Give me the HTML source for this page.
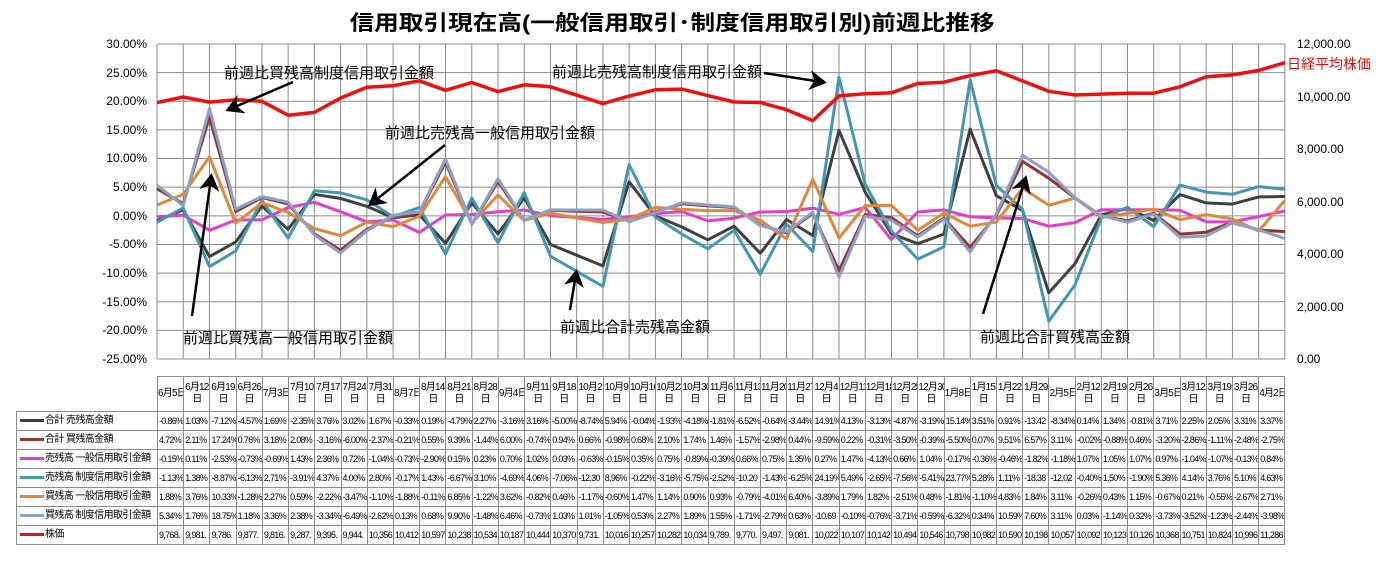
<!DOCTYPE html>
<html><head><meta charset="utf-8">
<style>
body{margin:0;background:#fff;width:1376px;height:564px;overflow:hidden;position:relative;font-family:"Liberation Sans","Noto Sans CJK JP",sans-serif;}
svg{position:absolute;left:0;top:0}
table{position:absolute;left:16px;top:376px;border-collapse:collapse;table-layout:fixed;width:1268px}
td,th{border:1px solid #8c8c8c;padding:0 0 0 1px;overflow:hidden;white-space:nowrap;font-size:9px;letter-spacing:-0.7px;font-weight:normal;color:#000;height:18px;line-height:18px}
th{height:34px;line-height:12px;font-size:10px;letter-spacing:-0.8px;text-align:center;padding:0}
th.e{border:none}
td.l{font-size:10px;letter-spacing:-0.6px;padding-left:3px}
td.l i{display:inline-block;width:24px;height:3px;vertical-align:middle;margin-right:1px}
</style></head><body>
<svg id="s" width="1376" height="564" xmlns="http://www.w3.org/2000/svg">
<text x="672" y="30" text-anchor="middle" font-size="21" font-weight="bold" textLength="645" lengthAdjust="spacingAndGlyphs" font-family="Liberation Sans,Noto Sans CJK JP,sans-serif">信用取引現在高(一般信用取引･制度信用取引別)前週比推移</text>
<g id="grid" stroke="#8c8c8c" stroke-width="1"></g>
<g font-size="12" fill="#000" text-anchor="end" font-family="Liberation Sans,sans-serif">
<text x="147" y="48">30.00%</text><text x="147" y="77">25.00%</text><text x="147" y="105">20.00%</text><text x="147" y="134">15.00%</text><text x="147" y="162">10.00%</text><text x="147" y="191">5.00%</text><text x="147" y="220">0.00%</text><text x="147" y="248">-5.00%</text><text x="147" y="277">-10.00%</text><text x="147" y="306">-15.00%</text><text x="147" y="334">-20.00%</text><text x="147" y="363">-25.00%</text>
</g>
<g font-size="12" fill="#000" font-family="Liberation Sans,sans-serif">
<text x="1297" y="48">12,000.00</text><text x="1297" y="101">10,000.00</text><text x="1297" y="153">8,000.00</text><text x="1297" y="206">6,000.00</text><text x="1297" y="258">4,000.00</text><text x="1297" y="311">2,000.00</text><text x="1297" y="363">0.00</text>
</g>
<text x="1287" y="69" font-size="14" fill="#e01010" font-family="Liberation Sans,Noto Sans CJK JP,sans-serif">日経平均株価</text>
<g id="lines" fill="none" stroke-linejoin="round"></g>
<defs><marker id="ah" markerWidth="8" markerHeight="8" refX="5" refY="4" orient="auto" markerUnits="strokeWidth"><path d="M0,0 L7,4 L0,8 L2,4 z" fill="#000"/></marker></defs>
<g stroke="#000" stroke-width="2.5" marker-end="url(#ah)">
<line x1="293" y1="82" x2="230" y2="109"/>
<line x1="445" y1="145" x2="372" y2="203"/>
<line x1="192" y1="316" x2="211" y2="178"/>
<line x1="764" y1="73" x2="822" y2="82"/>
<line x1="570" y1="310" x2="576" y2="274"/>
<line x1="983" y1="314" x2="1025" y2="180"/>
</g>
<g font-size="15" fill="#000" font-family="Liberation Sans,Noto Sans CJK JP,sans-serif">
<text x="224" y="78">前週比買残高制度信用取引金額</text>
<text x="385" y="138">前週比売残高一般信用取引金額</text>
<text x="183" y="343">前週比買残高一般信用取引金額</text>
<text x="552" y="77">前週比売残高制度信用取引金額</text>
<text x="560" y="332">前週比合計売残高金額</text>
<text x="980" y="342">前週比合計買残高金額</text>
</g>
</svg>
<table>
<colgroup><col style="width:141px"><col span="43" style="width:26.23px"></colgroup>
<tr><th class="e"></th><th>6月5日</th><th>6月12<br>日</th><th>6月19<br>日</th><th>6月26<br>日</th><th>7月3日</th><th>7月10<br>日</th><th>7月17<br>日</th><th>7月24<br>日</th><th>7月31<br>日</th><th>8月7日</th><th>8月14<br>日</th><th>8月21<br>日</th><th>8月28<br>日</th><th>9月4日</th><th>9月11<br>日</th><th>9月18<br>日</th><th>10月2<br>日</th><th>10月9<br>日</th><th>10月16<br>日</th><th>10月23<br>日</th><th>10月30<br>日</th><th>11月6<br>日</th><th>11月13<br>日</th><th>11月20<br>日</th><th>11月27<br>日</th><th>12月4<br>日</th><th>12月11<br>日</th><th>12月18<br>日</th><th>12月25<br>日</th><th>12月30<br>日</th><th>1月8日</th><th>1月15<br>日</th><th>1月22<br>日</th><th>1月29<br>日</th><th>2月5日</th><th>2月12<br>日</th><th>2月19<br>日</th><th>2月26<br>日</th><th>3月5日</th><th>3月12<br>日</th><th>3月19<br>日</th><th>3月26<br>日</th><th>4月2日</th></tr>
<tr><td class="l"><i style="background:#404040"></i>合計 売残高金額</td><td>-0.86%</td><td>1.03%</td><td>-7.12%</td><td>-4.57%</td><td>1.69%</td><td>-2.35%</td><td>3.76%</td><td>3.02%</td><td>1.67%</td><td>-0.33%</td><td>0.19%</td><td>-4.79%</td><td>2.27%</td><td>-3.16%</td><td>3.16%</td><td>-5.00%</td><td>-8.74%</td><td>5.94%</td><td>-0.04%</td><td>-1.93%</td><td>-4.18%</td><td>-1.81%</td><td>-6.52%</td><td>-0.64%</td><td>-3.44%</td><td>14.91%</td><td>4.13%</td><td>-3.13%</td><td>-4.87%</td><td>-3.19%</td><td>15.14%</td><td>3.51%</td><td>0.91%</td><td>-13.42</td><td>-8.34%</td><td>0.14%</td><td>1.34%</td><td>-0.81%</td><td>3.71%</td><td>2.25%</td><td>2.05%</td><td>3.31%</td><td>3.37%</td></tr>
<tr><td class="l"><i style="background:#943634"></i>合計 買残高金額</td><td>4.72%</td><td>2.11%</td><td>17.24%</td><td>0.76%</td><td>3.18%</td><td>2.08%</td><td>-3.16%</td><td>-6.00%</td><td>-2.37%</td><td>-0.21%</td><td>0.55%</td><td>9.39%</td><td>-1.44%</td><td>6.00%</td><td>-0.74%</td><td>0.94%</td><td>0.66%</td><td>-0.98%</td><td>0.68%</td><td>2.10%</td><td>1.74%</td><td>1.46%</td><td>-1.57%</td><td>-2.98%</td><td>0.44%</td><td>-9.59%</td><td>0.22%</td><td>-0.31%</td><td>-3.50%</td><td>-0.39%</td><td>-5.50%</td><td>0.07%</td><td>9.51%</td><td>6.57%</td><td>3.11%</td><td>-0.02%</td><td>-0.88%</td><td>0.46%</td><td>-3.20%</td><td>-2.86%</td><td>-1.11%</td><td>-2.48%</td><td>-2.75%</td></tr>
<tr><td class="l"><i style="background:#e040c8"></i>売残高 一般信用取引金額</td><td>-0.15%</td><td>0.11%</td><td>-2.53%</td><td>-0.73%</td><td>-0.69%</td><td>1.43%</td><td>2.36%</td><td>0.72%</td><td>-1.04%</td><td>-0.73%</td><td>-2.90%</td><td>0.15%</td><td>0.23%</td><td>0.70%</td><td>1.02%</td><td>0.03%</td><td>-0.63%</td><td>-0.15%</td><td>0.35%</td><td>0.75%</td><td>-0.89%</td><td>-0.39%</td><td>0.66%</td><td>0.75%</td><td>1.35%</td><td>0.27%</td><td>1.47%</td><td>-4.13%</td><td>0.66%</td><td>1.04%</td><td>-0.17%</td><td>-0.36%</td><td>-0.46%</td><td>-1.82%</td><td>-1.18%</td><td>1.07%</td><td>1.05%</td><td>1.07%</td><td>0.97%</td><td>-1.04%</td><td>-1.07%</td><td>-0.13%</td><td>0.84%</td></tr>
<tr><td class="l"><i style="background:#4198af"></i>売残高 制度信用取引金額</td><td>-1.13%</td><td>1.38%</td><td>-8.87%</td><td>-6.13%</td><td>2.71%</td><td>-3.91%</td><td>4.37%</td><td>4.00%</td><td>2.80%</td><td>-0.17%</td><td>1.43%</td><td>-6.67%</td><td>3.10%</td><td>-4.69%</td><td>4.06%</td><td>-7.06%</td><td>-12.30</td><td>8.96%</td><td>-0.22%</td><td>-3.16%</td><td>-5.75%</td><td>-2.52%</td><td>-10.20</td><td>-1.43%</td><td>-6.25%</td><td>24.19%</td><td>5.49%</td><td>-2.65%</td><td>-7.56%</td><td>-5.41%</td><td>23.77%</td><td>5.28%</td><td>1.11%</td><td>-18.38</td><td>-12.02</td><td>-0.40%</td><td>1.50%</td><td>-1.90%</td><td>5.36%</td><td>4.14%</td><td>3.76%</td><td>5.10%</td><td>4.63%</td></tr>
<tr><td class="l"><i style="background:#e0883a"></i>買残高 一般信用取引金額</td><td>1.88%</td><td>3.76%</td><td>10.33%</td><td>-1.28%</td><td>2.27%</td><td>0.59%</td><td>-2.22%</td><td>-3.47%</td><td>-1.10%</td><td>-1.88%</td><td>-0.11%</td><td>6.85%</td><td>-1.22%</td><td>3.62%</td><td>-0.82%</td><td>0.46%</td><td>-1.17%</td><td>-0.60%</td><td>1.47%</td><td>1.14%</td><td>0.90%</td><td>0.93%</td><td>-0.79%</td><td>-4.01%</td><td>6.40%</td><td>-3.89%</td><td>1.79%</td><td>1.82%</td><td>-2.51%</td><td>0.48%</td><td>-1.81%</td><td>-1.10%</td><td>4.83%</td><td>1.84%</td><td>3.11%</td><td>-0.26%</td><td>0.43%</td><td>1.15%</td><td>-0.67%</td><td>0.21%</td><td>-0.55%</td><td>-2.67%</td><td>2.71%</td></tr>
<tr><td class="l"><i style="background:#8ea0c8"></i>買残高 制度信用取引金額</td><td>5.34%</td><td>1.76%</td><td>18.75%</td><td>1.18%</td><td>3.36%</td><td>2.38%</td><td>-3.34%</td><td>-6.49%</td><td>-2.62%</td><td>0.13%</td><td>0.68%</td><td>9.90%</td><td>-1.48%</td><td>6.46%</td><td>-0.73%</td><td>1.03%</td><td>1.01%</td><td>-1.05%</td><td>0.53%</td><td>2.27%</td><td>1.89%</td><td>1.55%</td><td>-1.71%</td><td>-2.79%</td><td>0.63%</td><td>-10.69</td><td>-0.10%</td><td>-0.76%</td><td>-3.71%</td><td>-0.59%</td><td>-6.32%</td><td>0.34%</td><td>10.59%</td><td>7.60%</td><td>3.11%</td><td>0.03%</td><td>-1.14%</td><td>0.32%</td><td>-3.73%</td><td>-3.52%</td><td>-1.23%</td><td>-2.44%</td><td>-3.98%</td></tr>
<tr><td class="l"><i style="background:#ee1010"></i>株価</td><td>9,768.</td><td>9,981.</td><td>9,786.</td><td>9,877.</td><td>9,816.</td><td>9,287.</td><td>9,395.</td><td>9,944.</td><td>10,356</td><td>10,412</td><td>10,597</td><td>10,238</td><td>10,534</td><td>10,187</td><td>10,444</td><td>10,370</td><td>9,731.</td><td>10,016</td><td>10,257</td><td>10,282</td><td>10,034</td><td>9,789.</td><td>9,770.</td><td>9,497.</td><td>9,081.</td><td>10,022</td><td>10,107</td><td>10,142</td><td>10,494</td><td>10,546</td><td>10,798</td><td>10,982</td><td>10,590</td><td>10,198</td><td>10,057</td><td>10,092</td><td>10,123</td><td>10,126</td><td>10,368</td><td>10,751</td><td>10,824</td><td>10,996</td><td>11,286</td></tr>
</table>
<script>
var NS="http://www.w3.org/2000/svg";
var g=document.getElementById("grid"),L=document.getElementById("lines");
var X0=157,W=26.23,Y0=44,H=315;
function ln(p,a,b,c,d){var e=document.createElementNS(NS,"line");e.setAttribute("x1",a);e.setAttribute("y1",b);e.setAttribute("x2",c);e.setAttribute("y2",d);p.appendChild(e);}
for(var j=0;j<=11;j++){var y=Y0+H*j/11;ln(g,X0,y,X0+43*W,y);}
for(var k=0;k<=43;k++){var x=X0+k*W;ln(g,x,Y0,x,Y0+H);}
var S=[
["#404040",[-0.86,1.03,-7.12,-4.57,1.69,-2.35,3.76,3.02,1.67,-0.33,0.19,-4.79,2.27,-3.16,3.16,-5.00,-8.74,5.94,-0.04,-1.93,-4.18,-1.81,-6.52,-0.64,-3.44,14.91,4.13,-3.13,-4.87,-3.19,15.14,3.51,0.91,-13.42,-8.34,0.14,1.34,-0.81,3.71,2.25,2.05,3.31,3.37]],
["#943634",[4.72,2.11,17.24,0.76,3.18,2.08,-3.16,-6.00,-2.37,-0.21,0.55,9.39,-1.44,6.00,-0.74,0.94,0.66,-0.98,0.68,2.10,1.74,1.46,-1.57,-2.98,0.44,-9.59,0.22,-0.31,-3.50,-0.39,-5.50,0.07,9.51,6.57,3.11,-0.02,-0.88,0.46,-3.20,-2.86,-1.11,-2.48,-2.75]],
["#e040c8",[-0.15,0.11,-2.53,-0.73,-0.69,1.43,2.36,0.72,-1.04,-0.73,-2.90,0.15,0.23,0.70,1.02,0.03,-0.63,-0.15,0.35,0.75,-0.89,-0.39,0.66,0.75,1.35,0.27,1.47,-4.13,0.66,1.04,-0.17,-0.36,-0.46,-1.82,-1.18,1.07,1.05,1.07,0.97,-1.04,-1.07,-0.13,0.84]],
["#4198af",[-1.13,1.38,-8.87,-6.13,2.71,-3.91,4.37,4.00,2.80,-0.17,1.43,-6.67,3.10,-4.69,4.06,-7.06,-12.30,8.96,-0.22,-3.16,-5.75,-2.52,-10.20,-1.43,-6.25,24.19,5.49,-2.65,-7.56,-5.41,23.77,5.28,1.11,-18.38,-12.02,-0.40,1.50,-1.90,5.36,4.14,3.76,5.10,4.63]],
["#e0883a",[1.88,3.76,10.33,-1.28,2.27,0.59,-2.22,-3.47,-1.10,-1.88,-0.11,6.85,-1.22,3.62,-0.82,0.46,-1.17,-0.60,1.47,1.14,0.90,0.93,-0.79,-4.01,6.40,-3.89,1.79,1.82,-2.51,0.48,-1.81,-1.10,4.83,1.84,3.11,-0.26,0.43,1.15,-0.67,0.21,-0.55,-2.67,2.71]],
["#8ea0c8",[5.34,1.76,18.75,1.18,3.36,2.38,-3.34,-6.49,-2.62,0.13,0.68,9.90,-1.48,6.46,-0.73,1.03,1.01,-1.05,0.53,2.27,1.89,1.55,-1.71,-2.79,0.63,-10.69,-0.10,-0.76,-3.71,-0.59,-6.32,0.34,10.59,7.60,3.11,0.03,-1.14,0.32,-3.73,-3.52,-1.23,-2.44,-3.98]]];
var P=[9768,9981,9786,9877,9816,9287,9395,9944,10356,10412,10597,10238,10534,10187,10444,10370,9731,10016,10257,10282,10034,9789,9770,9497,9081,10022,10107,10142,10494,10546,10798,10982,10590,10198,10057,10092,10123,10126,10368,10751,10824,10996,11286];
function expand(a){var r=a.slice(0,16);r.push((a[15]+a[16])/2);return r.concat(a.slice(16));}
function poly(a,fy,col,w){var p=expand(a).map(function(v,k){return (X0+k*W).toFixed(1)+","+fy(v).toFixed(1)}).join(" ");
var e=document.createElementNS(NS,"polyline");e.setAttribute("points",p);e.setAttribute("stroke",col);e.setAttribute("stroke-width",w);L.appendChild(e);}
S.forEach(function(s){poly(s[1],function(v){return Y0+(30-v)*H/55},s[0],3);});
poly(P,function(v){return Y0+H-v*H/12000},"#ee1010",3.5);
</script>
</body></html>
